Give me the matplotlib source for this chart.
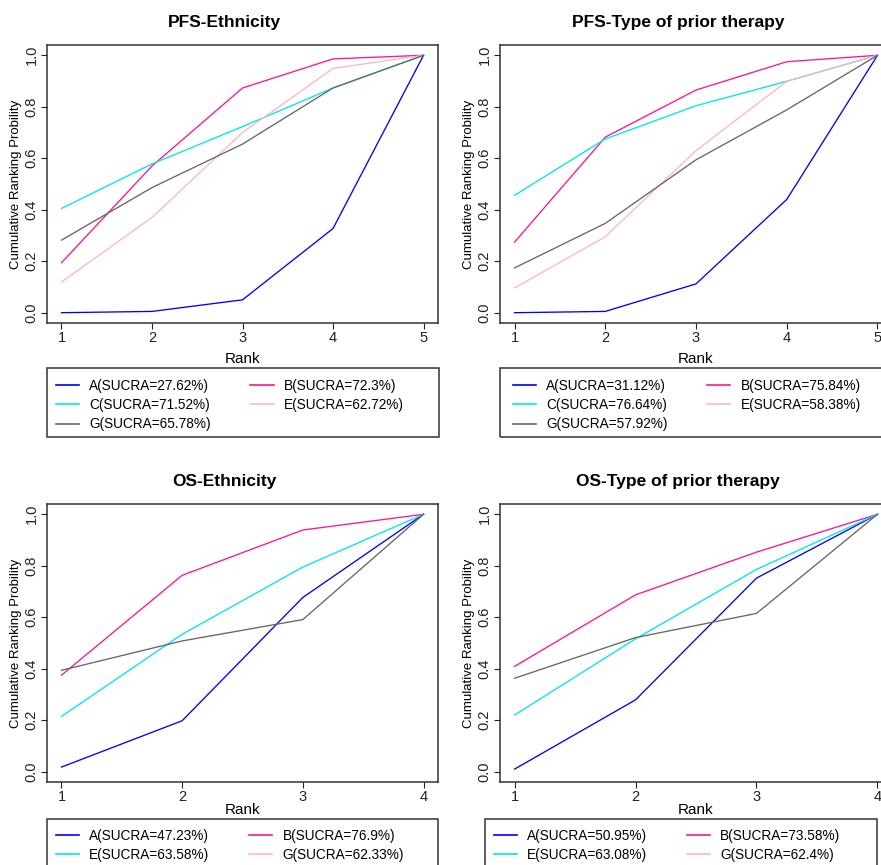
import matplotlib
matplotlib.use("Agg")
import matplotlib.pyplot as plt
from matplotlib.lines import Line2D
from matplotlib.patches import Rectangle

plt.rcParams["font.family"] = ["Liberation Sans", "DejaVu Sans"]

W, H = 881, 865

# ranks
rank5 = [1, 2, 3, 4, 5]
rank4 = [1, 2, 3, 4]

# PFS - Ethnicity (cumulative ranking probabilities)
pfs_eth_A = [0.0, 0.005, 0.05, 0.327, 1.0]
pfs_eth_B = [0.194, 0.570, 0.873, 0.986, 1.0]
pfs_eth_C = [0.405, 0.578, 0.723, 0.873, 1.0]
pfs_eth_E = [0.119, 0.370, 0.700, 0.949, 1.0]
pfs_eth_G = [0.282, 0.486, 0.655, 0.873, 1.0]
pfs_eth_labels = ["A(SUCRA=27.62%)", "B(SUCRA=72.3%)", "C(SUCRA=71.52%)",
                  "E(SUCRA=62.72%)", "G(SUCRA=65.78%)"]

# PFS - Type of prior therapy
pfs_ther_A = [0.0, 0.005, 0.112, 0.440, 1.0]
pfs_ther_B = [0.274, 0.682, 0.865, 0.975, 1.0]
pfs_ther_C = [0.456, 0.675, 0.804, 0.899, 1.0]
pfs_ther_E = [0.096, 0.295, 0.630, 0.899, 1.0]
pfs_ther_G = [0.174, 0.347, 0.594, 0.788, 1.0]
pfs_ther_labels = ["A(SUCRA=31.12%)", "B(SUCRA=75.84%)", "C(SUCRA=76.64%)",
                   "E(SUCRA=58.38%)", "G(SUCRA=57.92%)"]

# OS - Ethnicity
os_eth_A = [0.018, 0.198, 0.677, 1.0]
os_eth_B = [0.375, 0.763, 0.939, 1.0]
os_eth_E = [0.215, 0.534, 0.795, 1.0]
os_eth_G = [0.394, 0.508, 0.591, 1.0]
os_eth_labels = ["A(SUCRA=47.23%)", "B(SUCRA=76.9%)", "E(SUCRA=63.58%)",
                 "G(SUCRA=62.33%)"]

# OS - Type of prior therapy
os_ther_A = [0.010, 0.279, 0.752, 1.0]
os_ther_B = [0.409, 0.687, 0.853, 1.0]
os_ther_E = [0.220, 0.516, 0.786, 1.0]
os_ther_G = [0.363, 0.521, 0.615, 1.0]
os_ther_labels = ["A(SUCRA=50.95%)", "B(SUCRA=73.58%)", "E(SUCRA=63.08%)",
                  "G(SUCRA=62.4%)"]

BLUE = "#0000FF"
MAGENTA = "#FF1493"
CYAN = "#00E5EE"
PINK = "#FFB6C1"
GRAY = "#666666"


def fx(x):
    return x / W


def fy(y):
    return 1 - y / H


def panel(fig, box, ranks, series, title, xlabelpad):
    left, top, right, bottom = box
    ax = fig.add_axes([fx(left), fy(bottom), fx(right - left), (bottom - top) / H])
    for y, c in series:
        ax.plot(ranks, y, color=c, lw=0.95)
    span = ranks[-1] - ranks[0]
    ax.set_xlim(ranks[0] - 0.04 * span, ranks[-1] + 0.04 * span)
    ax.set_ylim(-0.04, 1.04)
    ax.set_xticks(ranks)
    yt = [0.0, 0.2, 0.4, 0.6, 0.8, 1.0]
    ax.set_yticks(yt)
    ax.set_yticklabels(["%.1f" % v for v in yt], rotation=90, va="center")
    ax.tick_params(direction="out", length=4.5, width=0.8, labelsize=10.5,
                   pad=1.5, colors="#222222")
    for s in ax.spines.values():
        s.set_color("#333333")
        s.set_linewidth(1.1)
    ax.set_xlabel("Rank", fontsize=11, labelpad=xlabelpad)
    ax.set_ylabel("Cumulative Ranking Probility", fontsize=9.5, labelpad=2)
    ax.set_title(title, fontsize=12.5, fontweight="bold", x=0.455, pad=13)
    return ax


def legend_box(fig, ax, rect, first, handles, labels):
    x0, y0, x1, y1 = rect
    fig.patches.append(Rectangle((fx(x0), fy(y1)), fx(x1 - x0), (y1 - y0) / H,
                                 transform=fig.transFigure, fill=False,
                                 edgecolor="#333333", lw=1.1))
    hx, hy = first
    ax.legend(handles, labels, ncol=2, frameon=False, loc="upper left",
              bbox_to_anchor=(fx(hx), fy(hy)), bbox_transform=fig.transFigure,
              fontsize=9.8, borderpad=0, borderaxespad=0, handlelength=1.7,
              handletextpad=0.75, columnspacing=2.9, labelspacing=0.38)


fig = plt.figure(figsize=(W / 100, H / 100), dpi=100)

# top left
ax1 = panel(fig, (47, 45, 438, 323), rank5,
            [(pfs_eth_A, BLUE), (pfs_eth_B, MAGENTA), (pfs_eth_C, CYAN),
             (pfs_eth_E, PINK), (pfs_eth_G, GRAY)],
            "PFS-Ethnicity", 5)
h5 = [Line2D([], [], color=c, lw=1.2) for c in (BLUE, CYAN, GRAY, MAGENTA, PINK)]
order5 = [0, 2, 4, 1, 3]
legend_box(fig, ax1, (47, 368, 439, 437), (56, 379), h5,
           [pfs_eth_labels[i] for i in order5])

# top right
ax2 = panel(fig, (500, 45, 892, 323), rank5,
            [(pfs_ther_A, BLUE), (pfs_ther_B, MAGENTA), (pfs_ther_C, CYAN),
             (pfs_ther_E, PINK), (pfs_ther_G, GRAY)],
            "PFS-Type of prior therapy", 5)
legend_box(fig, ax2, (500, 368, 895, 437), (513, 379), h5,
           [pfs_ther_labels[i] for i in order5])

# bottom left
ax3 = panel(fig, (47, 504, 438, 782), rank4,
            [(os_eth_A, BLUE), (os_eth_B, MAGENTA), (os_eth_E, CYAN),
             (os_eth_G, GRAY)],
            "OS-Ethnicity", -1)
h4 = [Line2D([], [], color=c, lw=1.2) for c in (BLUE, CYAN, MAGENTA, PINK)]
order4 = [0, 2, 1, 3]
legend_box(fig, ax3, (47, 819, 438, 900), (56, 829), h4,
           [os_eth_labels[i] for i in order4])

# bottom right
ax4 = panel(fig, (500, 504, 892, 782), rank4,
            [(os_ther_A, BLUE), (os_ther_B, MAGENTA), (os_ther_E, CYAN),
             (os_ther_G, GRAY)],
            "OS-Type of prior therapy", -1)
legend_box(fig, ax4, (485, 819, 877, 900), (494, 829), h4,
           [os_ther_labels[i] for i in order4])

fig.savefig("out.png", dpi=100)
